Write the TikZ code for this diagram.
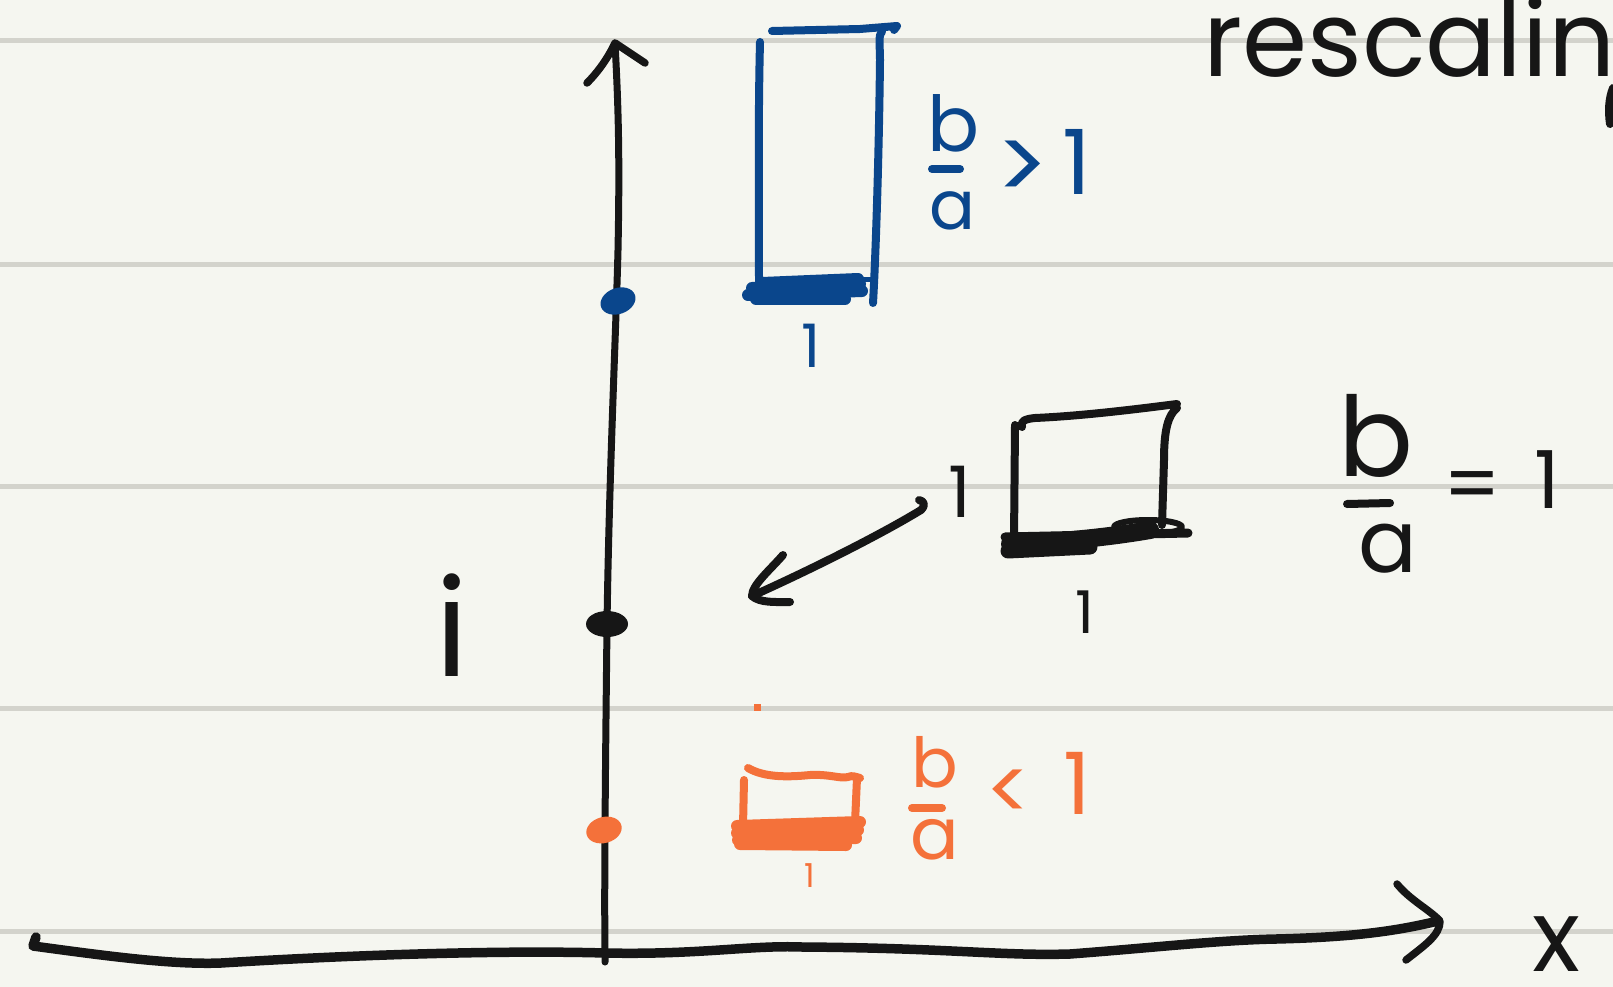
\documentclass[tikz,border=0pt]{standalone}
\usepackage{fontspec}
\setmainfont{Poppins}
\usetikzlibrary{shapes.geometric}
\definecolor{paper}{HTML}{F5F6F0}
\definecolor{rulegray}{HTML}{D3D3CC}
\definecolor{ink}{HTML}{161616}
\definecolor{inkblue}{HTML}{0A468C}
\definecolor{inkorange}{HTML}{F4713A}
\newcommand{\hwsz}[1]{\fontsize{#1}{#1}\selectfont}
\begin{document}
\begin{tikzpicture}[x=1pt,y=-1pt,line cap=round,line join=round,
  glyph/.style={inner sep=0pt,outer sep=0pt},
  ruleline/.style={rulegray,line width=5pt,line cap=butt},
  pen/.style={line width=8pt},
  scrib/.style={line width=12pt},
  dotmark/.style={ellipse,inner sep=0pt,minimum width=36pt,minimum height=26pt},
]
\useasboundingbox (0,0) rectangle (1613,987);
\fill[paper] (0,0) rectangle (1613,987);
\clip (0,0) rectangle (1613,987);
% ruled lines
\foreach \yy in {41,264,486,708,931} \draw[ruleline] (0,\yy) -- (1613,\yy);

% coordinates of the axes
\coordinate (O) at (605,953);
\coordinate (ytip) at (615,43);
\coordinate (xtip) at (1438,921);
\coordinate (xstart) at (33,946);

% y axis
\draw[ink,line width=7pt] (605,962) -- (O) .. controls (604,880) and (606,720) .. (607,625)
  .. controls (609,480) and (616,330) .. (618,250) .. controls (620,150) and (618,100) .. (ytip);
\draw[ink,line width=7.5pt] (587,83) .. controls (598,72) and (608,58) .. (ytip) -- (645,63);

% x axis
\draw[ink,line width=9.5pt] (36,937) -- (xstart) .. controls (100,955) and (170,965) .. (221,963)
  .. controls (350,955) and (500,950) .. (O) .. controls (700,955) and (750,945) .. (802,947)
  .. controls (950,948) and (1000,956) .. (1070,954) .. controls (1150,948) and (1220,940) .. (1276,939)
  .. controls (1360,937) and (1400,930) .. (xtip);
\draw[ink,line width=7.5pt] (1397,884) .. controls (1410,900) and (1430,910) .. (1440,921)
  .. controls (1440,935) and (1425,945) .. (1406,960);
\node[glyph,ink,font=\hwsz{100}] (xlab) at (1556,944) {x};
\node[glyph,ink,font=\hwsz{135}] (ilab) at (452,625) {i};

% title
\node[glyph,ink,font=\hwsz{105},anchor=base west] (title) at (1203,77) {rescaling};
\draw[ink,pen] (1613,88) .. controls (1609,98) and (1608,110) .. (1610,124);

% blue box
\draw[inkblue,pen] (760,42) .. controls (758,120) and (759,220) .. (759,290);
\draw[inkblue,pen] (882,32) .. controls (878,35) and (880,45) .. (880,60)
  .. controls (879,150) and (876,250) .. (873,303);
\draw[inkblue,pen] (772,31) -- (860,29) -- (897,26) -- (894,30);
\draw[inkblue,scrib] (748,295) -- (862,291);
\draw[inkblue,scrib] (752,288) -- (860,284);
\draw[inkblue,scrib] (762,283) -- (858,279);
\draw[inkblue,scrib] (756,299) -- (845,299);
\draw[inkblue,line width=5pt] (860,279) -- (873,279);
\node[glyph,inkblue,font=\hwsz{60}] (blone) at (811,346) {1};
\node[glyph,inkblue,font=\hwsz{77}] (bb) at (954,123) {b};
\node[glyph,inkblue,font=\hwsz{68}] (ba) at (952,211) {a};
\draw[inkblue,pen] (932,169) -- (960,169);
\node[glyph,inkblue,font=\hwsz{100}] (bgt) at (1022,171) {>};
\node[glyph,inkblue,font=\hwsz{90}] (bone) at (1077,162) {1};

% black box
\draw[ink,pen] (1015,425) -- (1014,540);
\draw[ink,pen] (1022,427) .. controls (1020,421) and (1025,419) .. (1035,418)
  .. controls (1080,416) and (1130,410) .. (1177,404);
\draw[ink,pen] (1177,408) .. controls (1168,415) and (1164,430) .. (1164,460) -- (1162,525);
\draw[ink,line width=9pt] (1005,537) -- (1188,533);
\draw[ink,line width=18pt] (1010,544) .. controls (1060,542) and (1110,537) .. (1150,530);
\draw[ink,line width=15pt] (1008,551) -- (1090,547);
\draw[ink,line width=6pt] (1148,527) ellipse [x radius=34,y radius=7];
\node[glyph,ink,font=\hwsz{71}] (kone) at (960,492) {1};
\node[glyph,ink,font=\hwsz{59}] (kbone) at (1085,612) {1};
\node[glyph,ink,font=\hwsz{111}] (kb) at (1376,436) {b};
\node[glyph,ink,font=\hwsz{87}] (ka) at (1388,549) {a};
\draw[ink,pen] (1347,504) -- (1390,503);
\node[glyph,ink,font=\hwsz{80}] (keq) at (1472,492) {=};
\node[glyph,ink,font=\hwsz{80}] (kone2) at (1547,480) {1};

% curved arrow
\coordinate (arrS) at (921,510);
\coordinate (arrE) at (752,596);
\draw[ink,pen] (919,500) .. controls (924,501) and (926,505) .. (arrS)
  .. controls (880,535) and (810,570) .. (arrE);
\draw[ink,pen] (783,555) .. controls (770,570) and (752,585) .. (arrE)
  .. controls (760,603) and (775,602) .. (790,602);

% orange box
\draw[inkorange,pen] (748,768) .. controls (765,778) and (790,777) .. (810,775)
  .. controls (830,774) and (840,779) .. (848,777) .. controls (852,775) and (856,777) .. (860,778);
\draw[inkorange,pen] (744,780) -- (743,826);
\draw[inkorange,pen] (857,778) -- (855,823);
\draw[inkorange,scrib] (737,826) -- (860,822);
\draw[inkorange,scrib] (737,833) -- (858,830);
\draw[inkorange,scrib] (738,840) -- (856,838);
\draw[inkorange,scrib] (740,844) -- (846,845);
\fill[inkorange] (754,704) rectangle (761,711);
\node[glyph,inkorange,font=\hwsz{33}] (oone) at (810,876) {1};
\node[glyph,inkorange,font=\hwsz{69}] (ob) at (935,762) {b};
\node[glyph,inkorange,font=\hwsz{72}] (oa) at (935,840) {a};
\draw[inkorange,pen] (912,808) -- (942,808);
\node[glyph,inkorange,font=\hwsz{85}] (olt) at (1009,795) {<};
\node[glyph,inkorange,font=\hwsz{86}] (oone2) at (1077,783) {1};

% points on the axis
\node[dotmark,fill=inkblue,rotate=20] (pblue) at (618,301) {};
\node[dotmark,fill=ink,minimum width=42pt] (pblack) at (607,624) {};
\node[dotmark,fill=inkorange,rotate=15] (porange) at (604,830) {};
\end{tikzpicture}
\end{document}
